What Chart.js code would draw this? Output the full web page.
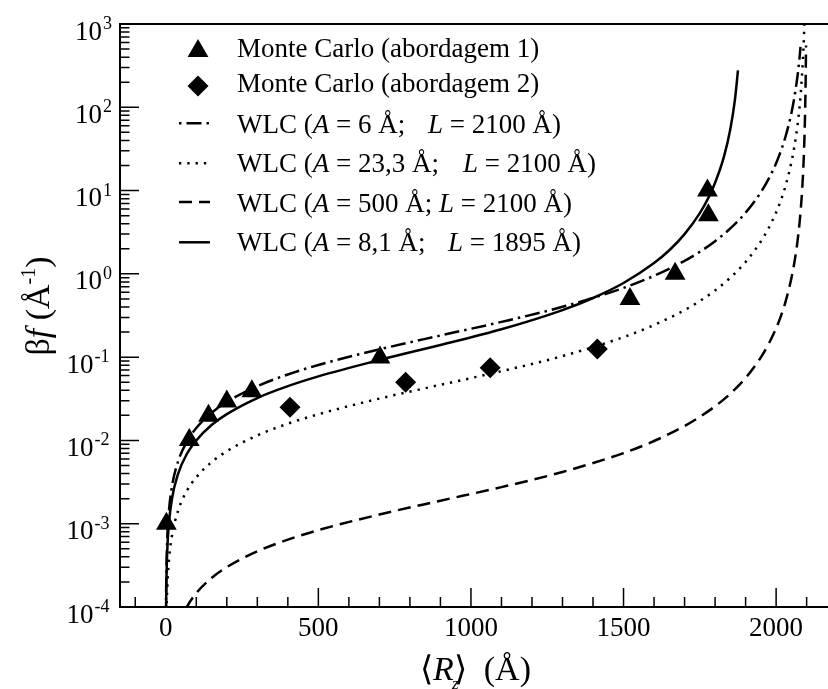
<!DOCTYPE html>
<html>
<head>
<meta charset="utf-8">
<script src="https://cdn.jsdelivr.net/npm/chart.js@4.4.1/dist/chart.umd.min.js"></script>
<style>
  html, body { margin: 0; padding: 0; background: #fff; }
  #wrap { width: 828px; height: 689px; }
</style>
</head>
<body>
<div id="wrap"><canvas id="chart" width="828" height="689"></canvas></div>
<script>
// Monte Carlo points
const mc1X = [2, 77, 140, 200, 282, 702, 1521, 1669, 1775, 1778];
const mc1Y = [0.001, 0.0101, 0.0198, 0.0294, 0.039, 0.099, 0.5, 1.0, 10, 5.06];
const mc2X = [407, 786, 1063, 1414];
const mc2Y = [0.025, 0.0498, 0.0746, 0.125];

// WLC curves
const wlcA6X = [0.5, 1, 2, 5, 10, 20, 40, 70, 100, 150, 200, 300, 400, 500, 700, 900, 1100, 1300, 1500, 1600,
  1700, 1750, 1800, 1850, 1900, 1950, 1975, 2000, 2015, 2030, 2050, 2060, 2070, 2076, 2080];
const wlcA6Y = [6.9e-5, 1.37e-4, 2.75e-4, 6.9e-4, 1.38e-3, 2.76e-3, 5.55e-3, 9.78e-3, 0.0141, 0.0214,
  0.029, 0.0448, 0.0619, 0.0805, 0.124, 0.182, 0.265, 0.402, 0.678, 0.947,
  1.43, 1.84, 2.47, 3.51, 5.43, 9.55, 13.7, 21.3, 29.5, 43.4, 84.9, 133, 236, 368, 530];

const wlcA23X = [0.5, 1, 2, 5, 10, 20, 40, 70, 100, 150, 200, 300, 400, 500, 700, 900, 1100, 1300, 1500, 1600,
  1700, 1750, 1800, 1850, 1900, 1950, 1975, 2000, 2015, 2030, 2050, 2060, 2070, 2076, 2080, 2090, 2093];
const wlcA23Y = [1.76e-5, 3.52e-5, 7.04e-5, 1.76e-4, 3.53e-4, 7.07e-4, 1.42e-3, 2.51e-3, 3.61e-3, 5.49e-3,
  7.42e-3, 0.0115, 0.0159, 0.0206, 0.0318, 0.0465, 0.0678, 0.103, 0.174, 0.243,
  0.367, 0.472, 0.633, 0.9, 1.39, 2.45, 3.51, 5.47, 7.55, 11.1, 21.8, 34, 60.4, 94.3, 136, 543, 1108];

const wlcA500X = [40, 55, 70, 100, 150, 200, 300, 400, 500, 700, 900, 1100, 1300, 1500, 1600, 1700, 1750, 1800,
  1850, 1900, 1950, 1975, 2000, 2015, 2030, 2050, 2060, 2070, 2076, 2080, 2085, 2090, 2093, 2095, 2097, 2098];
const wlcA500Y = [5.77e-5, 7.96e-5, 1.02e-4, 1.47e-4, 2.23e-4, 3.01e-4, 4.66e-4, 6.44e-4, 8.38e-4, 1.29e-3,
  1.89e-3, 2.75e-3, 4.18e-3, 7.05e-3, 9.84e-3, 0.0149, 0.0192, 0.0257, 0.0365, 0.0564,
  0.0994, 0.143, 0.222, 0.307, 0.451, 0.884, 1.38, 2.45, 3.83, 5.51, 9.8, 22.1, 45, 88.2, 245, 551];

const wlcA8X = [0.5, 1, 2, 5, 10, 20, 40, 70, 100, 150, 200, 300, 400, 500, 700, 900, 1100, 1300, 1400, 1500,
  1600, 1650, 1700, 1750, 1780, 1800, 1830, 1850, 1865, 1875];
const wlcA8Y = [4.9e-5, 9.8e-5, 1.96e-4, 4.89e-4, 9.8e-4, 1.97e-3, 3.95e-3, 6.97e-3, 0.01, 0.0153,
  0.0207, 0.0323, 0.0448, 0.0587, 0.0923, 0.14, 0.216, 0.367, 0.513, 0.777,
  1.35, 1.92, 3.0, 5.36, 8.47, 12.4, 26.3, 54.8, 123, 277];

// axes
const xTicks = [0, 500, 1000, 1500, 2000];
const yExps = [-4, -3, -2, -1, 0, 1, 2, 3];

const serif = '"Liberation Serif", "Times New Roman", serif';
const toPts = (xs, ys) => xs.map((x, i) => ({ x: x, y: ys[i] }));

const dashDot = [15, 5, 2.5, 5];
const dotted = [2.3, 6];
const dashed = [13, 7];

const legendRows = [
  { kind: 'triangle', runs: [['Monte Carlo (abordagem 1)']] },
  { kind: 'diamond', runs: [['Monte Carlo (abordagem 2)']] },
  { kind: dashDot, off: 20, runs: [['WLC ('], ['A', 'i'], [' = 6 Å;'], ['L', 'i', 428], [' = 2100 Å)']] },
  { kind: dotted, off: 0, runs: [['WLC ('], ['A', 'i'], [' = 23,3 Å;'], ['L', 'i', 463], [' = 2100 Å)']] },
  { kind: dashed, off: 0, runs: [['WLC ('], ['A', 'i'], [' = 500 Å; '], ['L', 'i'], [' = 2100 Å)']] },
  { kind: [], off: 0, runs: [['WLC ('], ['A', 'i'], [' = 8,1 Å;'], ['L', 'i', 448], [' = 1895 Å)']] }
];
const legendBase = [57, 92, 132.5, 171.7, 211.7, 250.7];
const legendMid = [51, 86, 123.3, 163.3, 202, 242.3];

function drawRuns(ctx, runs, x, y, size) {
  let cx = x;
  runs.forEach(r => {
    ctx.font = (r[1] === 'i' ? 'italic ' : '') + size + 'px ' + serif;
    if (r[2] !== undefined) cx = r[2];
    ctx.fillText(r[0], cx, y);
    cx += ctx.measureText(r[0]).width;
  });
}

const decorations = {
  id: 'decorations',
  afterDraw(chart) {
    const { ctx, chartArea: a, scales } = chart;
    const xs = scales.x, ys = scales.y;
    ctx.save();
    ctx.strokeStyle = '#000';
    ctx.fillStyle = '#000';
    ctx.setLineDash([]);

    // frame
    ctx.lineWidth = 2;
    ctx.beginPath();
    ctx.moveTo(a.right, a.top);
    ctx.lineTo(a.left, a.top);
    ctx.lineTo(a.left, a.bottom);
    ctx.lineTo(a.right, a.bottom);
    ctx.stroke();

    // inward ticks
    ctx.lineWidth = 1.5;
    ctx.beginPath();
    yExps.forEach(e => {
      for (let m = 1; m < 10; m++) {
        if (e === yExps[yExps.length - 1] && m > 1) break;
        const py = ys.getPixelForValue(m * Math.pow(10, e));
        ctx.moveTo(a.left, py);
        ctx.lineTo(a.left + (m === 1 ? 19 : 9.5), py);
      }
    });
    for (let v = -100; v <= 2100; v += 100) {
      const px = xs.getPixelForValue(v);
      ctx.moveTo(px, a.bottom);
      ctx.lineTo(px, a.bottom - (v % 500 === 0 ? 19 : 10));
    }
    ctx.stroke();

    // tick labels
    ctx.textBaseline = 'alphabetic';
    ctx.textAlign = 'center';
    ctx.font = '27px ' + serif;
    xTicks.forEach(v => ctx.fillText(String(v), xs.getPixelForValue(v), a.bottom + 29));
    yExps.forEach(e => {
      const py = ys.getPixelForValue(Math.pow(10, e));
      const end = e < 0 ? 93.5 : 102;
      ctx.textAlign = 'right';
      ctx.font = '27px ' + serif;
      ctx.fillText('10', end, py + 15.5);
      ctx.textAlign = 'left';
      ctx.font = '18px ' + serif;
      ctx.fillText(String(e), end + 1, py + 5);
    });

    // axis titles
    ctx.textAlign = 'left';
    const xt = [['\u27E8'], ['R', 'i'], ['\u27E9'], ['  (Å)']];
    drawRuns(ctx, xt, 420, 680, 34);
    ctx.font = 'italic 17px ' + serif;
    ctx.fillText('z', 452, 689);

    ctx.save();
    ctx.translate(49, 306);
    ctx.rotate(-Math.PI / 2);
    const yt = [['β'], ['f', 'i'], [' (Å']];
    let w = 0;
    yt.forEach(r => { ctx.font = (r[1] === 'i' ? 'italic ' : '') + '34px ' + serif; w += ctx.measureText(r[0]).width; });
    ctx.font = '20px ' + serif;
    const supW = ctx.measureText('-1').width;
    ctx.font = '34px ' + serif;
    const closeW = ctx.measureText(')').width;
    let sx = -(w + supW + closeW) / 2;
    drawRuns(ctx, yt, sx, 0, 34);
    sx += w;
    ctx.font = '20px ' + serif;
    ctx.fillText('-1', sx, -14);
    ctx.font = '34px ' + serif;
    ctx.fillText(')', sx + supW, 0);
    ctx.restore();

    // legend
    legendRows.forEach((row, i) => {
      const my = legendMid[i];
      if (row.kind === 'triangle') {
        const r = 12;
        ctx.beginPath();
        ctx.moveTo(198, my - r);
        ctx.lineTo(198 + r * Math.sin(2 * Math.PI / 3), my + r / 2);
        ctx.lineTo(198 - r * Math.sin(2 * Math.PI / 3), my + r / 2);
        ctx.closePath();
        ctx.fill();
      } else if (row.kind === 'diamond') {
        const r = 10.5;
        ctx.beginPath();
        ctx.moveTo(198 - r, my);
        ctx.lineTo(198, my - r);
        ctx.lineTo(198 + r, my);
        ctx.lineTo(198, my + r);
        ctx.closePath();
        ctx.fill();
      } else {
        ctx.lineWidth = 2.5;
        ctx.setLineDash(row.kind);
        ctx.lineDashOffset = row.off;
        ctx.beginPath();
        ctx.moveTo(179, my);
        ctx.lineTo(210, my);
        ctx.stroke();
        ctx.setLineDash([]);
        ctx.lineDashOffset = 0;
      }
      ctx.textAlign = 'left';
      drawRuns(ctx, row.runs, 237, legendBase[i], 27);
    });
    ctx.restore();
  }
};

const curve = (label, xs, ys, dash) => ({
  label: label,
  data: toPts(xs, ys),
  showLine: true,
  borderColor: '#000',
  borderWidth: 2.5,
  borderDash: dash,
  borderCapStyle: 'butt',
  pointRadius: 0,
  cubicInterpolationMode: 'monotone',
  clip: 0
});

new Chart(document.getElementById('chart'), {
  type: 'scatter',
  data: {
    datasets: [
      {
        label: 'Monte Carlo (abordagem 1)',
        data: toPts(mc1X, mc1Y),
        pointStyle: 'triangle',
        pointRadius: 12,
        backgroundColor: '#000',
        borderWidth: 0
      },
      {
        label: 'Monte Carlo (abordagem 2)',
        data: toPts(mc2X, mc2Y),
        pointStyle: 'rectRot',
        pointRadius: 10.5,
        backgroundColor: '#000',
        borderWidth: 0
      },
      curve('WLC (A = 6 Å; L = 2100 Å)', wlcA6X, wlcA6Y, dashDot),
      curve('WLC (A = 23,3 Å; L = 2100 Å)', wlcA23X, wlcA23Y, dotted),
      curve('WLC (A = 500 Å; L = 2100 Å)', wlcA500X, wlcA500Y, dashed),
      curve('WLC (A = 8,1 Å; L = 1895 Å)', wlcA8X, wlcA8Y, [])
    ]
  },
  options: {
    responsive: false,
    animation: false,
    layout: { autoPadding: false, padding: { top: 24, left: 0, right: 0, bottom: 0 } },
    plugins: { legend: { display: false }, tooltip: { enabled: false } },
    scales: {
      x: {
        type: 'linear', min: -150, max: 2170,
        grid: { display: false },
        border: { display: false },
        ticks: { display: false },
        afterFit: s => { s.height = 82; }
      },
      y: {
        type: 'logarithmic', min: 1e-4, max: 1e3,
        grid: { display: false },
        border: { display: false },
        ticks: { display: false },
        afterFit: s => { s.width = 120; }
      }
    }
  },
  plugins: [decorations]
});
</script>
</body>
</html>
